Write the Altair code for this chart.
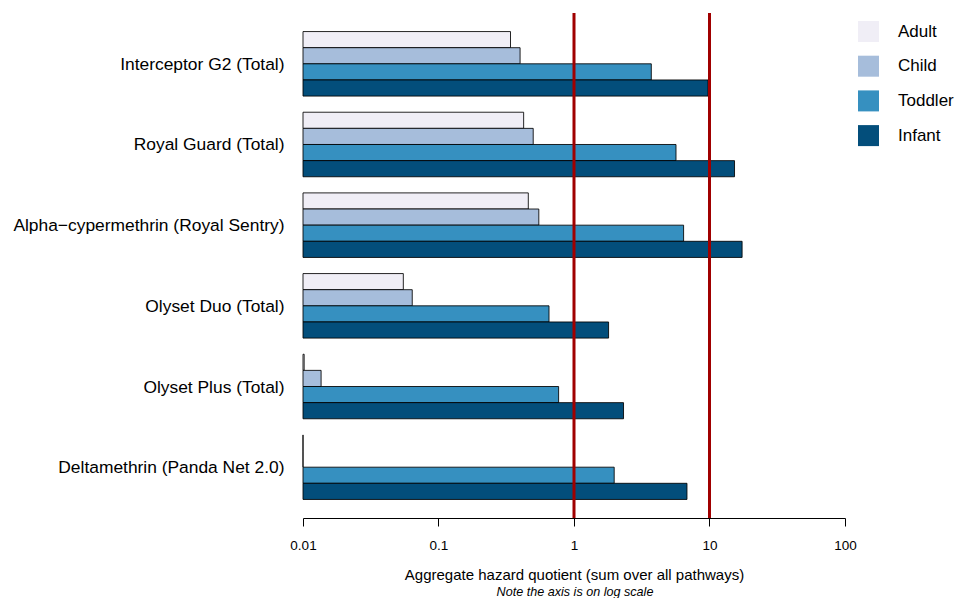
import altair as alt
import pandas as pd

# Products (top to bottom) and age groups (top to bottom within each product)
products = [
    "Interceptor G2 (Total)",
    "Royal Guard (Total)",
    "Alpha\u2212cypermethrin (Royal Sentry)",
    "Olyset Duo (Total)",
    "Olyset Plus (Total)",
    "Deltamethrin (Panda Net 2.0)",
]
ages = ["Adult", "Child", "Toddler", "Infant"]
age_colors = ["#F0EEF6", "#A6BDDB", "#3690C0", "#034E7B"]

# Aggregate hazard quotient per product, one list per age group
adult = [0.34, 0.425, 0.46, 0.055, 0.0102, 0.006]
child = [0.40, 0.50, 0.55, 0.064, 0.0136, 0.009]
toddler = [3.72, 5.66, 6.44, 0.654, 0.77, 1.98]
infant = [9.75, 15.3, 17.4, 1.80, 2.32, 6.82]

# Reference thresholds
thresholds = [1, 10]

rows = []
for age, series in zip(ages, [adult, child, toddler, infant]):
    for prod, v in zip(products, series):
        rows.append({"product": prod, "age": age, "hq": v})
df = pd.DataFrame(rows)
thr = pd.DataFrame({"t": thresholds})

FONT = "Liberation Sans"

x_scale = alt.Scale(type="log", domain=[0.01, 100], clamp=True, nice=False)

bars = alt.Chart(df).mark_bar(stroke="black", strokeWidth=1, strokeOpacity=0.85).encode(
    x=alt.X(
        "hq:Q",
        scale=x_scale,
        axis=alt.Axis(
            values=[0.01, 0.1, 1, 10, 100],
            labelExpr="datum.value >= 1 ? format(datum.value, 'd') : format(datum.value, '')",
            grid=False,
            domainColor="black",
            tickColor="black",
            tickSize=8,
            labelFontSize=13.5,
            labelColor="black",
            labelPadding=12,
            labelFont=FONT,
            labelFlush=False,
            labelOverlap=False,
            title="Aggregate hazard quotient (sum over all pathways)",
            titleFont=FONT,
            titleFontSize=15,
            titleFontWeight="normal",
            titleColor="black",
            titlePadding=16,
        ),
    ),
    x2=alt.value(0),
    y=alt.Y(
        "product:N",
        sort=products,
        scale=alt.Scale(paddingInner=0.2, paddingOuter=0.23),
        axis=alt.Axis(
            title=None,
            domain=False,
            ticks=False,
            labelFontSize=17.4,
            labelFont=FONT,
            labelColor="black",
            labelPadding=19,
            labelLimit=400,
            labelOffset=1,
        ),
    ),
    yOffset=alt.YOffset("age:N", sort=ages, scale=alt.Scale(paddingInner=0, paddingOuter=0)),
    fill=alt.Fill(
        "age:N",
        sort=ages,
        scale=alt.Scale(domain=ages, range=age_colors),
        legend=alt.Legend(
            title=None,
            orient="none",
            legendX=555,
            legendY=8,
            symbolType="square",
            symbolSize=441,
            symbolStrokeWidth=0,
            symbolOpacity=1,
            labelFontSize=17,
            labelFont=FONT,
            labelColor="black",
            labelOffset=19,
            rowPadding=13.7,
            padding=0,
        ),
    ),
)

rules = alt.Chart(thr).mark_rule(color="#A00000", strokeWidth=3).encode(
    x=alt.X("t:Q", scale=x_scale),
)

note = alt.Chart(pd.DataFrame({"n": ["Note the axis is on log scale"]})).mark_text(
    font=FONT, fontSize=12.6, fontStyle="italic", color="black", baseline="middle"
).encode(
    text="n:N",
    x=alt.value(272),
    y=alt.value(579),
)

chart = (
    alt.layer(bars, rules, note)
    .properties(
        width=542,
        height=505,
        autosize=alt.AutoSizeParams(type="none"),
        padding={"left": 303, "top": 13, "right": 112, "bottom": 80},
        view=alt.ViewBackground(stroke="transparent", strokeWidth=0),
    )
    .configure_view(stroke="transparent", strokeWidth=0)
    .configure(background="white")
)

chart.save("out.html", embed_options={"renderer": "svg", "actions": False})
